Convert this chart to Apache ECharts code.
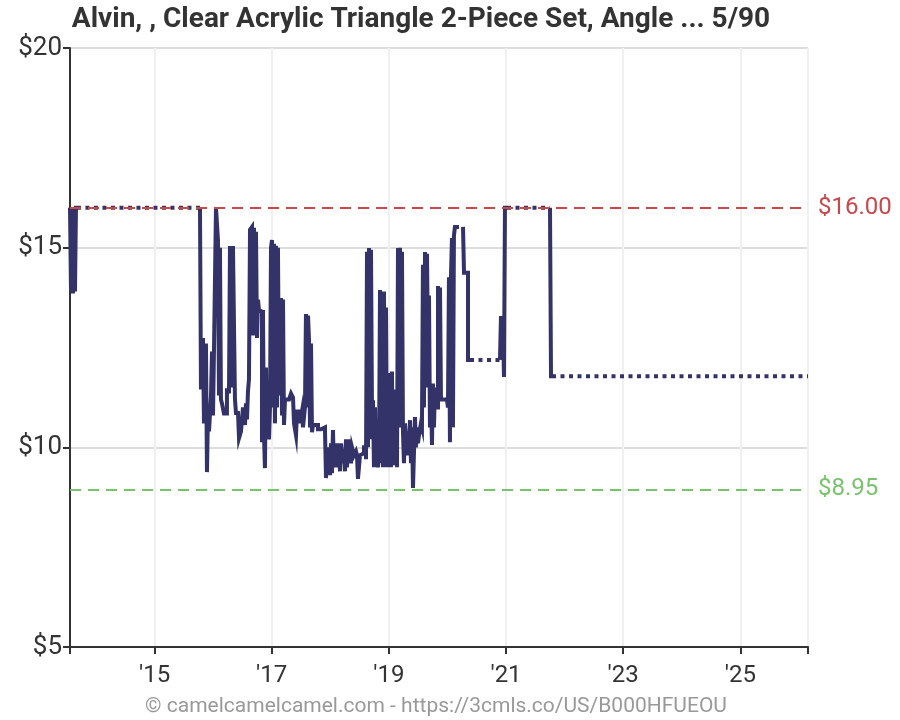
<!DOCTYPE html>
<html><head><meta charset="utf-8">
<script src="https://cdn.jsdelivr.net/npm/echarts@6/dist/echarts.min.js"></script>
<style>html,body{margin:0;padding:0;background:#fff}#c{width:900px;height:720px}</style>
</head><body><div id="c"></div>
<script>
const titleText = 'Alvin, , Clear Acrylic Triangle 2-Piece Set, Angle ... 5/90';
const footerText = '© camelcamelcamel.com - https://3cmls.co/US/B000HFUEOU';
const xMin = 2013.557, xMax = 2026.155;
const yearTicks = [2015, 2017, 2019, 2021, 2023, 2025];
const yMin = 5, yMax = 20, yStep = 5;
const highestPrice = 16.00, lowestPrice = 8.95, currentPrice = 11.78;

// price history [decimal year, price], solid stretches
const solidSegments = [
  [[2013.557,16.0],[2013.574,13.9],[2013.591,16.0],[2013.608,13.85],[2013.625,16.0],[2013.642,13.9],[2013.659,16.0],[2013.676,16.0]],
  [[2015.776,16.0],[2015.793,11.45],[2015.827,12.74],[2015.844,10.6],[2015.878,12.6],[2015.895,9.38],[2015.913,10.9],[2015.930,10.4],[2015.964,11.3],[2015.981,12.4],[2015.998,10.8],[2016.015,12.44],[2016.049,16.0],[2016.083,15.19],[2016.100,11.3],[2016.117,15.0],[2016.134,11.2],[2016.151,11.1],[2016.185,10.85],[2016.236,11.43],[2016.271,11.35],[2016.288,15.04],[2016.322,11.5],[2016.339,15.04],[2016.373,11.2],[2016.390,10.86],[2016.425,10.9],[2016.442,10.23],[2016.476,10.4],[2016.510,11.0],[2016.544,10.56],[2016.561,11.1],[2016.578,10.7],[2016.595,11.4],[2016.612,11.7],[2016.630,15.45],[2016.664,15.52],[2016.681,12.8],[2016.698,15.5],[2016.715,13.0],[2016.732,15.4],[2016.749,12.74],[2016.766,13.7],[2016.783,13.44],[2016.817,13.4],[2016.834,10.13],[2016.851,13.44],[2016.868,10.3],[2016.885,9.48],[2016.902,12.0],[2016.919,10.2],[2016.937,11.3],[2016.954,10.2],[2016.971,11.0],[2016.988,15.0],[2017.005,15.19],[2017.022,11.0],[2017.039,15.1],[2017.056,10.6],[2017.073,15.05],[2017.090,11.0],[2017.107,15.0],[2017.125,11.3],[2017.159,13.74],[2017.176,10.8],[2017.193,13.7],[2017.210,10.56],[2017.227,11.2],[2017.296,11.15],[2017.330,11.35],[2017.364,11.25],[2017.381,10.6],[2017.415,10.3],[2017.432,10.9],[2017.483,10.6],[2017.517,10.9],[2017.534,10.5],[2017.568,11.0],[2017.585,13.34],[2017.602,11.0],[2017.620,13.3],[2017.637,12.69],[2017.654,10.5],[2017.671,12.6],[2017.688,10.38],[2017.705,10.56],[2017.790,10.45],[2017.841,10.5],[2017.910,10.4],[2017.927,9.23],[2017.944,9.9],[2017.961,9.4],[2017.978,10.0],[2017.995,9.3],[2018.012,10.1],[2018.029,9.35],[2018.046,10.43],[2018.063,9.5],[2018.080,10.0],[2018.097,9.6],[2018.115,10.1],[2018.132,9.5],[2018.149,10.0],[2018.166,9.4],[2018.183,10.1],[2018.217,9.6],[2018.234,9.95],[2018.251,9.4],[2018.268,10.2],[2018.285,9.5],[2018.302,10.1],[2018.319,9.7],[2018.337,10.2],[2018.354,9.6],[2018.371,10.0],[2018.405,9.8],[2018.439,9.9],[2018.456,9.8],[2018.473,9.21],[2018.507,9.8],[2018.541,9.85],[2018.575,10.0],[2018.610,9.7],[2018.627,14.9],[2018.644,10.0],[2018.661,14.99],[2018.678,10.2],[2018.695,14.95],[2018.712,11.0],[2018.729,11.18],[2018.746,9.5],[2018.763,11.0],[2018.780,9.6],[2018.797,9.9],[2018.815,9.5],[2018.832,9.85],[2018.849,13.94],[2018.866,9.6],[2018.883,13.9],[2018.900,9.5],[2018.917,13.9],[2018.934,9.6],[2018.951,13.5],[2018.968,9.5],[2018.985,11.86],[2019.002,9.5],[2019.019,11.5],[2019.036,9.5],[2019.053,11.9],[2019.070,9.55],[2019.087,11.4],[2019.105,9.6],[2019.122,11.45],[2019.139,9.5],[2019.156,14.99],[2019.173,10.5],[2019.190,15.0],[2019.207,10.7],[2019.224,14.9],[2019.241,10.4],[2019.258,9.6],[2019.275,10.6],[2019.292,10.2],[2019.309,9.8],[2019.327,10.4],[2019.344,10.0],[2019.361,10.68],[2019.378,9.6],[2019.395,10.5],[2019.412,8.98],[2019.446,10.76],[2019.463,10.0],[2019.480,10.5],[2019.497,10.1],[2019.514,10.3],[2019.548,10.6],[2019.565,10.5],[2019.582,14.57],[2019.599,11.0],[2019.617,14.89],[2019.634,11.5],[2019.651,14.85],[2019.668,12.5],[2019.685,13.8],[2019.702,10.5],[2019.719,11.5],[2019.736,10.06],[2019.753,11.6],[2019.770,10.5],[2019.787,11.5],[2019.804,11.0],[2019.839,14.04],[2019.856,11.2],[2019.873,14.0],[2019.890,11.2],[2019.992,11.15],[2020.009,11.0],[2020.026,14.26],[2020.043,10.13],[2020.060,14.26],[2020.077,15.24],[2020.094,10.5],[2020.111,15.3],[2020.128,15.52],[2020.197,15.52]],
  [[2020.266,15.52],[2020.283,14.37],[2020.351,12.19],[2020.385,12.19]],
  [[2020.897,12.19],[2020.914,13.29],[2020.931,12.19],[2020.948,13.29],[2020.965,11.76],[2020.982,16.0],[2021.017,16.0]],
  [[2021.751,16.0],[2021.768,11.78],[2021.785,11.78]]
];
// dotted stretches (no change recorded)
const dottedSegments = [
  [[2013.676,16.0],[2015.776,16.0]],
  [[2020.385,12.19],[2020.897,12.19]],
  [[2021.017,16.0],[2021.751,16.0]],
  [[2021.785,11.78],[2026.155,11.78]]
];

const NAVY = '#33336a', RED = '#c9484b', GREEN = '#78c46c';
const FONT = 'Roboto';

const series = [{
  type: 'line', data: [], z: 1, silent: true,
  markLine: {
    silent: true, symbol: 'none', animation: false,
    data: [
      { yAxis: highestPrice, lineStyle: { color: RED, type: [11, 7], width: 2 },
        label: { show: true, position: 'end', distance: 10, formatter: '$' + highestPrice.toFixed(2), color: RED, fontSize: 24, fontFamily: FONT } },
      { yAxis: lowestPrice, lineStyle: { color: GREEN, type: [11, 7], width: 2 },
        label: { show: true, position: 'end', distance: 10, formatter: '$' + lowestPrice.toFixed(2), color: GREEN, fontSize: 24, fontFamily: FONT } },
      { yAxis: currentPrice, lineStyle: { color: NAVY, width: 0, opacity: 0 },
        label: { show: true, position: 'end', distance: 10, formatter: '$' + currentPrice.toFixed(2), color: NAVY, fontSize: 24, fontFamily: FONT } }
    ]
  }
}];
solidSegments.forEach(seg => series.push({
  type: 'line', data: seg, step: 'end', symbol: 'none', z: 3, silent: true,
  lineStyle: { color: NAVY, width: 4, join: 'miter', cap: 'butt' }
}));
dottedSegments.forEach(seg => series.push({
  type: 'line', data: seg, symbol: 'none', z: 2, silent: true,
  lineStyle: { color: NAVY, width: 4, type: [4, 4.5], cap: 'butt' }
}));

const chart = echarts.init(document.getElementById('c'), null, { renderer: 'canvas' });
chart.setOption({
  animation: false,
  backgroundColor: '#fff',
  grid: { left: 70, right: 92, top: 48, bottom: 73, containLabel: false },
  xAxis: {
    type: 'value', min: xMin, max: xMax,
    axisLine: { show: true, onZero: false, lineStyle: { color: '#333', width: 2 } },
    axisTick: { show: true, customValues: [xMin].concat(yearTicks, [xMax]), length: 7, lineStyle: { color: '#333', width: 2 } },
    axisLabel: { customValues: yearTicks, formatter: v => "'" + String(Math.round(v)).slice(2), fontSize: 24, color: '#333', margin: 17, fontFamily: FONT },
    splitLine: { show: true, lineStyle: { color: '#f0f0f0', width: 2 } }
  },
  yAxis: {
    type: 'value', min: yMin, max: yMax, interval: yStep,
    axisLine: { show: true, onZero: false, lineStyle: { color: '#333', width: 2 } },
    axisTick: { show: true, length: 7, lineStyle: { color: '#333', width: 2 } },
    axisLabel: { formatter: v => '$' + v, fontSize: 26, color: '#333', margin: 8, fontFamily: FONT },
    splitLine: { show: true, lineStyle: { color: '#dddddd', width: 2 } }
  },
  graphic: [
    { type: 'text', x: 421, y: 20, style: { text: titleText, font: 'bold 28px Roboto', fill: '#333', align: 'center', verticalAlign: 'middle' } },
    { type: 'text', x: 436, y: 707, style: { text: footerText, font: '21px Roboto', fill: '#999', align: 'center', verticalAlign: 'middle' } }
  ],
  series: series
});
</script>
</body></html>
